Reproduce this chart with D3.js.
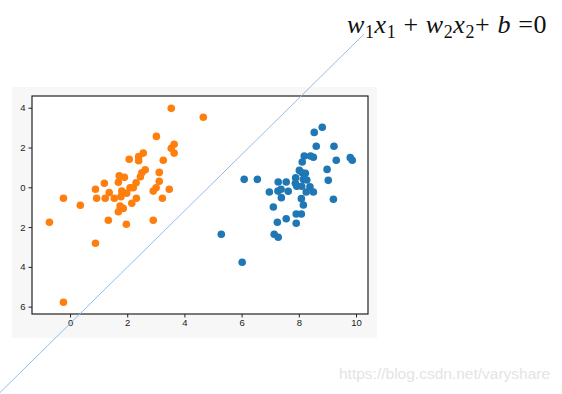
<!DOCTYPE html>
<html lang="en">
<head>
    <meta charset="UTF-8">
    <title>Linear separator scatter</title>
    <script src="https://d3js.org/d3.v7.min.js"></script>
    <style>
        body, html {
            margin: 0;
            background: white;
        }
        svg { display: block; }
        .tick text { font-family: "Liberation Sans", Arial, sans-serif; font-size: 9.5px; fill: #222; }
    </style>
</head>
<body>
    <div id="chart"></div>
    <script>
        // class 1 (orange)
        var orangeX = [3.54, 4.66, 3.02, 3.64, 3.54, 3.64, 3.26, 2.56, 2.40, 2.40, 2.07, 2.63, 2.51, 2.46,
            3.12, 3.12, 3.01, 2.91, 3.47, 3.23, 2.31, 1.72, 1.90, 1.69, 1.20, 0.89, 0.93, 1.23, 1.37, 1.55,
            1.81, 1.98, 2.10, 2.21, 1.78, 2.32, 2.16, -0.23, 0.36, 1.75, 1.86, 1.69, -0.72, 1.34, 1.97,
            2.91, 0.89, -0.23];
        var orangeY = [3.97, 3.52, 2.56, 2.16, 1.96, 1.72, 1.36, 1.72, 1.54, 1.34, 1.41, 0.88, 0.73, 0.53,
            0.75, 0.30, -0.02, -0.19, -0.10, -0.55, 0.23, 0.58, 0.50, 0.25, 0.20, -0.10, -0.55, -0.55, -0.27, -0.55,
            -0.19, -0.30, -0.02, -0.02, -0.47, -0.55, -0.80, -0.55, -0.90, -0.94, -1.06, -1.23, -1.76, -1.66, -1.86,
            -1.66, -2.81, -5.78];
        // class 2 (blue)
        var blueX = [8.82, 8.54, 8.61, 9.23, 8.19, 8.41, 8.51, 8.12, 9.31, 9.80, 9.87, 8.99, 9.03, 8.02,
            8.12, 8.23, 7.89, 8.16, 8.28, 7.88, 6.09, 6.55, 7.28, 7.56, 6.97, 7.27, 7.38, 7.63, 7.39, 8.39,
            8.26, 8.51, 8.09, 8.16, 9.21, 7.11, 7.56, 7.91, 8.09, 7.25, 7.91, 5.29, 7.14, 7.28, 6.02, 7.93, 8.10];
        var blueY = [3.02, 2.76, 2.06, 2.06, 1.57, 1.57, 1.51, 1.27, 1.36, 1.49, 1.36, 0.90, 0.35, 0.85,
            0.73, 0.70, 0.48, 0.40, 0.37, 0.20, 0.40, 0.40, 0.27, 0.27, -0.24, -0.19, -0.10, -0.20, -0.52, 0.03,
            -0.24, -0.24, -0.57, -0.89, -0.60, -0.99, -1.58, -1.34, -1.34, -1.76, -1.81, -2.36, -2.36, -2.51, -3.77, 0.05, 0.05];
        // decision line w1x1 + w2x2 + b = 0, two points on it (data units)
        var lineX = [-2.45, 10.28];
        var lineY = [-10.32, 7.70];

        var xTicks = [0, 2, 4, 6, 8, 10];
        var yTicks = [4, 2, 0, -2, -4, -6];

        var width = 562, height = 394;
        var svg = d3.select("#chart").append("svg").attr("width", width).attr("height", height);

        // grey figure background
        svg.append("rect").attr("x", 12).attr("y", 87).attr("width", 365).attr("height", 251).attr("fill", "#f7f7f7");

        var axL = 32, axR = 368, axT = 96, axB = 314;
        var x = d3.scaleLinear().domain([-1.33, 10.42]).range([axL, axR]);
        var y = d3.scaleLinear().domain([-6.37, 4.59]).range([axB, axT]);

        svg.append("rect").attr("x", axL).attr("y", axT).attr("width", axR - axL).attr("height", axB - axT).attr("fill", "white");

        var pts = function (xs, ys) { return xs.map((v, i) => [v, ys[i]]); };

        svg.append("g").selectAll("circle").data(pts(blueX, blueY)).enter().append("circle")
            .attr("cx", d => x(d[0])).attr("cy", d => y(d[1])).attr("r", 3.8).attr("fill", "#1f77b4");
        svg.append("g").selectAll("circle").data(pts(orangeX, orangeY)).enter().append("circle")
            .attr("cx", d => x(d[0])).attr("cy", d => y(d[1])).attr("r", 3.8).attr("fill", "#ff7f0e");

        // axes, minus sign dropped like in the original picture
        var fmt = d => String(Math.abs(d));
        var xAxis = d3.axisBottom(x).tickValues(xTicks).tickFormat(fmt).tickSize(3.5).tickPadding(2);
        var yAxis = d3.axisLeft(y).tickValues(yTicks).tickFormat(fmt).tickSize(3.5).tickPadding(3);
        var gx = svg.append("g").attr("transform", "translate(0," + axB + ")").call(xAxis);
        var gy = svg.append("g").attr("transform", "translate(" + axL + ",0)").call(yAxis);
        [gx, gy].forEach(g => {
            g.select(".domain").remove();
            g.selectAll(".tick line").attr("stroke", "#222");
        });

        svg.append("rect").attr("x", axL).attr("y", axT).attr("width", axR - axL).attr("height", axB - axT)
            .attr("fill", "none").attr("stroke", "#222").attr("stroke-width", 1.2);

        svg.append("line")
            .attr("x1", x(lineX[0])).attr("y1", y(lineY[0]))
            .attr("x2", x(lineX[1])).attr("y2", y(lineY[1]))
            .attr("stroke", "#94bde6").attr("stroke-width", 1);

        // formula
        var f = svg.append("text").attr("x", 347).attr("y", 33)
            .attr("font-family", "'Liberation Serif', 'DejaVu Serif', serif").attr("font-size", 26)
            .attr("letter-spacing", 0.6).attr("fill", "#111");
        var parts = [["w", "it"], ["1", "sub"], ["x", "it"], ["1", "sub"], [" + ", "n"], ["w", "it"], ["2", "sub"],
            ["x", "it"], ["2", "sub"], ["+ ", "n"], ["b", "it"], [" =0", "n"]];
        parts.forEach((p, i) => {
            var t = f.append("tspan").text(p[0]);
            var prevSub = i > 0 && parts[i - 1][1] === "sub";
            if (p[1] === "it") t.attr("font-style", "italic");
            if (p[1] === "sub") t.attr("font-size", 18).attr("dy", prevSub ? 0 : 5);
            else t.attr("dy", prevSub ? -5 : 0);
        });

        // watermark
        svg.append("text").attr("x", 339).attr("y", 379)
            .attr("font-family", "'Liberation Sans', Arial, sans-serif").attr("font-size", 15.5)
            .attr("fill", "#e4e4e4").text("https://blog.csdn.net/varyshare");
    </script>
</body>
</html>
